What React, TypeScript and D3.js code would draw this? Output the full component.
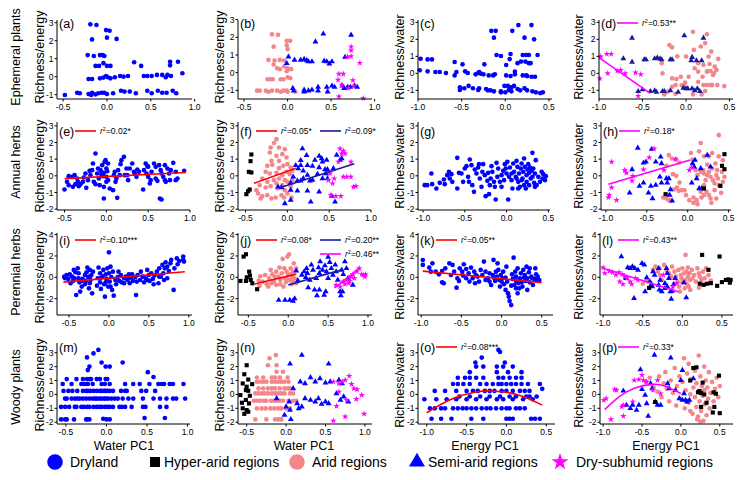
import React from "react";
import * as d3 from "d3";

type P = [number, number];

// ---------- tick labels / titles ----------
const waterTicks = [-0.5, 0, 0.5, 1.0];
const energyTicks = [-1.0, -0.5, 0, 0.5];
const yTicksR1 = [-1, 0, 1, 2, 3];
const yTicksR2 = [-2, -1, 0, 1, 2, 3];
const yTicksR3 = [-2, 0, 2, 4];
const yTicksR4 = [-2, -1, 0, 1, 2, 3];
const rowTitles = ["Ephemeral plants", "Annual herbs", "Perennial herbs", "Woody plants"];
const yTitles = ["Richness/energy", "Richness/energy", "Richness/water", "Richness/water"];
const xTitles = ["Water PC1", "Water PC1", "Energy PC1", "Energy PC1"];
const legendLabels = ["Dryland", "Hyper-arid regions", "Arid regions", "Semi-arid regions", "Dry-subhumid regions"];

// ---------- (a) ----------
const aDry: P[] = [[-0.19,2.91],[-0.12,2.87],[-0.01,2.59],[0.03,2.55],[-0.17,2.07],[0.0,2.17],[0.11,2.1],
[-0.22,1.2],[-0.15,1.15],[-0.08,1.2],[-0.05,1.2],[-0.03,1.15],
[-0.13,0.6],[-0.09,0.6],[-0.04,0.75],[0.0,0.6],[0.04,0.6],[0.31,0.8],[0.39,0.6],[0.72,0.83],[0.72,0.63],[0.81,0.83],[0.86,0.19],
[-0.21,-0.13],[-0.17,-0.13],[-0.08,-0.09],[-0.04,-0.05],[-0.01,0.04],[0.01,-0.03],[0.04,-0.09],[0.09,-0.03],[0.15,0.04],[0.19,0.0],[0.24,0.04],[0.42,0.04],[0.46,0.04],[0.51,0.04],[0.57,0.1],[0.63,0.1],[0.67,-0.03],[0.69,0.1],[0.73,0.04],
[-0.48,-1.02],[-0.34,-0.89],[-0.31,-0.92],[-0.21,-0.96],[-0.18,-1.02],[-0.17,-0.89],[-0.13,-0.98],[-0.1,-0.92],[-0.06,-0.89],[-0.03,-0.89],[0.0,-0.96],[0.07,-0.92],[0.16,-0.78],[0.2,-0.83],[0.26,-0.83],[0.33,-0.92],[0.46,-0.78],[0.51,-0.92],[0.58,-0.78],[0.63,-0.89],[0.68,-0.89],[0.75,-0.78],[0.79,-0.92]];

// ---------- (b) ----------
const bArid: P[] = [[-0.18,2.17],[-0.11,2.14],[-0.16,1.47],[-0.01,1.8],[0.03,1.8],[-0.01,1.55],[0.0,1.33],
[-0.22,0.72],[-0.15,0.69],[-0.09,0.72],[-0.04,0.69],[-0.16,0.46],
[-0.12,0.25],[-0.09,0.2],[-0.04,0.35],[0.0,0.25],[0.04,0.2],[-0.01,0.08],
[-0.23,-0.37],[-0.2,-0.37],[-0.17,-0.37],[-0.08,-0.37],[-0.05,-0.37],[0.0,-0.26],[0.03,-0.31],
[-0.35,-1.02],[-0.32,-1.02],[-0.25,-1.02],[-0.22,-1.08],[-0.18,-1.02],[-0.12,-1.02],[-0.08,-1.08],[-0.05,-1.02],[-0.01,-1.02],[0.0,-1.08],[0.09,-1.08]];
const bSemi: P[] = [[0.01,0.9],[-0.01,0.53],[0.08,0.72],[0.15,0.72],[0.19,0.76],[0.22,0.69],[0.24,0.63],[0.28,0.63],[0.32,1.75],[0.41,2.2],[0.42,0.66],[0.45,0.63],[0.48,0.5],[0.51,0.63],[0.66,0.88],[0.73,2.13],
[0.06,-0.88],[0.07,-1.02],[0.19,-0.97],[0.19,-1.08],[0.24,-1.02],[0.28,-0.97],[0.35,-0.82],[0.35,-1.02],[0.45,-0.82],[0.46,-1.08],[0.51,-0.75],[0.54,-0.82],[0.63,-0.75],[0.65,-0.88],[0.69,-0.82],[0.72,-0.82],[0.77,-0.75],[0.8,-0.82]];
const bSub: P[] = [[0.69,0.9],[0.73,0.93],[0.73,1.47],[0.73,1.25],[0.83,0.55],[0.59,-0.07],[0.64,-0.07],[0.58,-0.41],[0.62,-0.69],[0.75,-0.43],[0.76,-0.75],[0.7,-0.88],[0.59,-1.35],[0.87,-1.45]];

// ---------- (c) ----------
const cDry: P[] = [[-0.16,2.5],[-0.11,2.5],[-0.13,2.1],[0.15,2.84],[0.08,2.5],[0.3,2.84],[0.22,2.1],[0.33,2.0],
[-0.1,1.08],[-0.05,1.02],[0.06,1.14],[0.05,0.84],[0.14,0.6],[0.2,1.08],[0.24,1.08],[0.27,1.08],[0.23,0.69],[0.27,0.6],[0.29,0.6],[0.37,1.08],[0.18,0.69],[0.01,0.49],[0.11,0.1],
[-0.97,0.86],[-0.89,0.82],[-0.84,0.82],[-0.98,0.18],[-0.89,0.12],[-0.8,0.08],[-0.75,0.08],[-0.68,0.02],[-0.58,0.67],[-0.58,-0.12],[-0.56,0.08],[-0.49,0.53],[-0.46,0.12],[-0.43,0.02],[-0.34,-0.06],[-0.31,0.02],[-0.3,0.08],[-0.28,-0.02],[-0.25,-0.06],[-0.24,0.53],[-0.19,-0.12],[-0.14,-0.12],[-0.12,-0.06],[0.01,-0.12],[0.06,-0.16],[0.11,-0.06],[0.2,-0.12],[0.24,-0.12],[0.25,-0.16],[0.3,-0.2],[0.34,-0.2],
[-0.52,-0.82],[-0.52,-0.98],[-0.47,-0.88],[-0.42,-0.74],[-0.37,-0.88],[-0.31,-0.98],[-0.3,-0.88],[-0.22,-0.92],[-0.2,-1.0],[-0.17,-1.0],[-0.13,-1.06],[-0.05,-1.06],[-0.01,-0.74],[0.03,-0.74],[0.04,-0.98],[0.07,-0.82],[0.07,-1.06],[0.1,-0.74],[0.14,-0.92],[0.17,-1.0],[0.22,-0.88],[0.25,-1.0],[0.31,-1.06],[0.35,-1.12],[0.4,-1.16],[0.43,-1.12],[-0.05,-1.12],[0.0,-1.12]];

// ---------- (d) ----------
const dSub: P[] = [[-0.99,-0.3],[-0.98,0.99],[-0.91,1.14],[-0.86,1.14],[-0.9,0.0],[-0.79,0.14],[-0.75,0.2],[-0.7,0.0],[-0.58,0.04],[-0.55,-1.33],[-0.52,-0.06]];
const dSemi: P[] = [[-0.62,2.08],[-0.72,0.87],[-0.62,0.67],[-0.48,0.81],[-0.46,0.81],[-0.36,0.87],[-0.33,0.91],[-0.3,0.85],[-0.28,0.81],[-0.18,0.81],[-0.16,0.81],[-0.02,2.22],[0.07,0.95],[0.06,0.75],[0.12,0.75],[0.18,0.75],[0.2,2.08],
[-0.55,-1.06],[-0.5,-0.96],[-0.41,-1.06],[-0.36,-1.02],[-0.34,-1.1],[-0.27,-1.06],[-0.25,-1.06],[-0.18,-1.02],[-0.09,-1.1],[-0.03,-0.86],[0.0,-0.9],[0.02,-0.9],[0.07,-0.9],[0.1,-1.02],[0.13,-0.9],[0.16,-1.06]];
const dArid: P[] = [[0.08,2.45],[0.24,2.3],[-0.19,1.66],[-0.16,1.53],[-0.1,1.0],[-0.28,0.6],[-0.27,0.0],[-0.16,-0.3],[-0.11,-0.34],[-0.12,-0.69],[-0.16,-0.79],[-0.21,-1.08],[-0.25,-1.24],[0.0,0.99],[0.09,1.38],[0.17,1.58],[0.22,1.78],[0.26,0.99],[0.29,1.28],[0.14,0.6],[0.2,0.5],[0.24,0.1],[0.25,0.14],[0.28,0.14],[0.33,0.4],[0.31,-0.1],[0.19,-0.2],[0.14,-0.5],[0.2,-0.69],[0.24,-0.69],[0.28,-0.69],[0.3,-0.69],[0.36,-0.69],[0.22,-1.04],[0.18,-1.24],[0.08,-1.24],[0.37,0.85],[0.32,0.0],[0.35,0.2],[0.14,0.1],[0.03,-0.2],[-0.01,-0.55],[-0.05,-0.7],[-0.03,-0.75],[-0.12,-1.2],[-0.06,-0.2],[0.44,-0.75],[0.27,0.55],[0.1,0.3]];
const dFit: P[] = [[-1.0,0.92],[-0.41,-1.18]];

// ---------- (e) ----------
const eDry: P[] = [[-0.5,-0.82],[-0.47,-0.36],[-0.45,-0.02],[-0.41,-0.06],[-0.38,0.04],[-0.45,-0.56],[-0.4,-0.66],[-0.37,-0.5],[-0.34,-0.36],[-0.33,-0.62],[-0.31,-0.5],[-0.35,-0.16],[-0.28,-0.36],[-0.25,0.14],[-0.22,-0.26],[-0.24,-0.72],[-0.19,0.04],[-0.17,0.34],[-0.16,0.74],[-0.13,1.34],[-0.15,-0.36],[-0.13,-0.5],[-0.11,0.14],[-0.1,0.44],[-0.09,-0.16],[-0.08,-0.56],[-0.07,0.34],[-0.05,0.64],[-0.04,-0.02],[-0.03,-0.66],[-0.03,0.18],[-0.02,0.84],[-0.01,0.94],[0.0,0.44],[0.0,-0.06],[0.0,-0.36],[0.01,0.28],[0.02,0.74],[0.02,-0.26],[-0.03,-1.36],[0.04,-0.76],[0.08,-0.86],[0.09,0.04],[0.1,0.24],[0.11,-0.36],[0.12,-0.16],[0.13,-1.32],[0.14,0.34],[0.16,0.04],[0.17,0.7],[0.18,0.94],[0.21,1.14],[0.22,0.04],[0.24,0.44],[0.25,0.04],[0.26,-0.26],[0.28,0.44],[0.31,0.74],[0.33,0.24],[0.34,0.14],[0.36,-0.06],[0.37,0.38],[0.39,0.24],[0.44,-0.82],[0.45,0.34],[0.47,0.74],[0.48,0.14],[0.5,-0.06],[0.49,0.58],[0.53,-0.26],[0.54,0.24],[0.57,0.74],[0.59,-0.16],[0.61,-0.3],[0.63,0.64],[0.65,0.34],[0.66,0.14],[0.68,-0.06],[0.7,-0.26],[0.64,-1.36],[0.66,-1.42],[0.7,0.64],[0.73,0.44],[0.75,0.14],[0.77,0.34],[0.8,0.78],[0.83,-0.26],[0.85,-0.16],[0.71,-0.36],[0.52,-0.46],[0.59,0.54],[0.83,0.24],[0.76,-0.26],[0.5,0.55],[0.93,0.3],[-0.2,0.3],[-0.27,-0.1],[-0.06,0.1]];
const eFit: P[] = [[-0.5,-0.17],[0.95,0.2]];

// ---------- (f) ----------
const fHyper: P[] = [[-0.43,1.28],[-0.44,0.88],[-0.46,0.24],[-0.43,0.2],[-0.47,-0.92],[-0.45,-0.82],[-0.49,-1.1]];
const fArid: P[] = [[-0.13,2.2],[-0.16,1.97],[-0.2,1.7],[-0.1,1.7],[-0.03,1.6],[-0.21,1.4],[-0.13,1.2],[-0.06,1.3],[-0.01,1.1],[-0.19,0.9],[-0.1,0.9],[-0.24,0.6],[-0.18,0.66],[-0.1,0.46],[-0.05,0.6],[0.0,0.7],[0.04,0.5],[0.06,0.3],[-0.26,0.24],[-0.21,0.14],[-0.13,0.18],[-0.06,0.04],[-0.01,0.24],[0.03,0.1],[-0.3,-0.16],[-0.24,-0.36],[-0.16,-0.26],[-0.1,-0.16],[-0.03,-0.26],[0.0,-0.36],[-0.33,-0.56],[-0.26,-0.7],[-0.2,-0.62],[-0.12,-0.76],[-0.06,-0.56],[-0.03,-0.86],[0.04,-0.66],[-0.35,-1.06],[-0.3,-1.22],[-0.24,-1.16],[-0.19,-1.36],[-0.14,-1.3],[-0.07,-1.16],[-0.04,-1.3],[0.0,-1.06],[0.05,-1.3],[-0.37,-0.86],[-0.32,-1.36],[-0.13,-0.46],[0.06,-0.26]];
const fSemi: P[] = [[0.18,1.63],[0.23,1.23],[0.16,0.93],[0.1,0.63],[0.13,0.43],[0.16,0.63],[0.19,0.3],[0.24,0.63],[0.12,-0.3],[0.07,-0.06],[0.04,-0.42],[0.16,-0.3],[0.19,-0.16],[0.24,0.04],[0.3,0.58],[0.33,0.94],[0.38,1.18],[0.41,1.04],[0.42,0.84],[0.45,0.38],[0.47,0.94],[0.48,0.38],[0.38,0.5],[0.36,0.1],[0.3,-0.26],[0.27,-0.3],[0.42,-0.16],[0.46,0.14],[0.48,-0.16],[0.04,-0.86],[0.12,-0.9],[0.24,-0.9],[0.28,-1.56],[0.38,-0.96],[0.53,-1.22],[0.57,-1.56],[0.04,-1.46],[-0.03,-1.66],[-0.07,-0.7],[-0.11,-0.66],[0.59,1.24],[0.63,0.94],[0.65,1.04],[0.55,0.44]];
const fSub: P[] = [[0.63,1.63],[0.67,1.5],[0.65,1.33],[0.69,1.33],[0.61,0.84],[0.76,0.84],[0.51,0.14],[0.56,-0.16],[0.54,-0.46],[0.49,-0.26],[0.67,-0.06],[0.71,-0.06],[0.76,-0.06],[0.79,-0.66],[0.82,-0.62],[0.52,-1.16],[0.58,-1.22],[0.64,-1.22]];
const fFitArid: P[] = [[-0.4,-0.45],[0.1,0.45]];
const fFitSemi: P[] = [[-0.1,-0.73],[0.8,0.72]];

// ---------- (g) ----------
const gDry: P[] = [[-0.98,-0.56],[-0.95,-0.56],[-0.9,0.14],[-0.89,-0.5],[-0.84,-0.76],[-0.8,-0.42],[-0.75,-0.22],[-0.74,-0.5],[-0.71,0.04],[-0.69,0.24],[-0.68,-0.16],[-0.66,0.1],[-0.65,-0.36],[-0.59,-0.76],[-0.59,1.08],[-0.57,0.18],[-0.54,0.14],[-0.52,-0.36],[-0.5,0.44],[-0.48,0.58],[-0.46,-0.06],[-0.45,-0.36],[-0.44,0.98],[-0.42,0.64],[-0.41,-0.56],[-0.39,-0.96],[-0.38,0.38],[-0.36,0.14],[-0.34,0.5],[-0.33,0.7],[-0.32,-0.16],[-0.3,-0.66],[-0.29,0.24],[-0.28,0.7],[-0.26,0.04],[-0.25,-1.22],[-0.23,-0.3],[-0.22,0.18],[-0.21,-1.1],[-0.2,-0.56],[-0.19,-0.16],[-0.18,0.58],[-0.17,0.24],[-0.15,-0.36],[-0.14,-0.66],[-0.13,-1.42],[-0.12,0.78],[-0.11,-0.06],[-0.1,0.44],[-0.08,-0.36],[-0.06,0.04],[-0.04,0.3],[-0.03,-0.26],[-0.02,0.7],[-0.01,0.44],[0.0,0.14],[0.01,0.84],[0.02,-1.42],[0.03,-0.06],[0.04,0.5],[0.06,-0.26],[0.07,-0.76],[0.08,0.74],[0.09,0.24],[0.11,-0.06],[0.12,0.9],[0.13,0.54],[0.14,-0.36],[0.15,0.14],[0.16,-0.66],[0.17,0.44],[0.18,0.74],[0.19,-0.16],[0.2,0.24],[0.21,1.04],[0.22,0.54],[0.23,-0.76],[0.24,0.04],[0.25,0.38],[0.26,0.7],[0.27,0.18],[0.28,0.5],[0.29,-0.16],[0.3,0.3],[0.31,1.38],[0.32,0.44],[0.33,-0.42],[0.34,0.14],[0.35,0.94],[0.36,-0.56],[0.38,-0.06],[0.4,-0.36],[0.42,0.24],[0.43,-0.16],[0.44,0.1],[0.46,-0.26],[0.47,-0.02],[0.12,-0.16],[0.18,-0.26],[0.24,-0.36],[0.31,-0.06],[0.34,-0.66],[0.27,-0.56],[0.21,-0.56],[0.14,-0.76],[0.06,0.14],[-0.06,-0.66]];

// ---------- (h) ----------
const hSub: P[] = [[-0.97,-1.3],[-0.96,-1.16],[-0.93,-0.7],[-0.93,0.84],[-0.87,-1.46],[-0.77,0.34],[-0.75,0.18],[-0.68,-0.3],[-0.67,-0.02],[-0.54,0.38],[-0.47,1.1],[-0.41,1.63],[-0.29,0.34],[-0.15,0.98],[0.02,0.34],[0.05,0.5]];
const hSemi: P[] = [[-0.61,1.67],[-0.68,0.38],[-0.71,-1.02],[-0.54,0.78],[-0.51,0.84],[-0.44,1.6],[-0.39,0.84],[-0.33,1.14],[-0.32,0.74],[-0.34,-0.06],[-0.39,-0.56],[-0.32,-0.42],[-0.45,-0.62],[-0.48,-1.02],[-0.43,-1.36],[-0.54,-0.42],[-0.59,-0.62],[-0.26,-0.16],[-0.25,-0.42],[-0.23,-0.16],[-0.22,-1.16],[-0.19,-1.5],[-0.21,-0.82],[0.06,0.74],[0.09,0.94],[0.08,0.54],[0.14,-0.76],[0.16,0.44],[0.11,-0.16],[0.05,-0.42],[0.24,1.24],[0.28,0.54],[0.17,-0.76]];
const hArid: P[] = [[-0.23,1.24],[-0.19,1.04],[-0.14,1.0],[-0.1,0.8],[-0.26,0.6],[-0.18,0.1],[-0.14,0.0],[-0.1,-0.4],[-0.13,-0.7],[-0.11,-0.9],[-0.07,-0.86],[-0.04,-0.86],[-0.26,-1.36],[-0.23,-1.46],[-0.3,-1.3],[-0.24,-1.16],[0.07,-1.3],[0.11,-1.46],[0.07,-1.62],[0.12,-1.7],[0.17,-1.3],[0.16,-0.96],[0.2,-1.16],[0.2,-0.56],[0.22,-0.26],[0.24,0.04],[0.26,0.24],[0.28,-0.06],[0.3,0.44],[0.31,-0.26],[0.33,-0.46],[0.34,0.74],[0.35,0.04],[0.36,0.34],[0.37,-0.16],[0.38,-0.56],[0.38,2.44],[0.16,1.97],[0.14,1.47],[0.2,1.17],[0.24,0.67],[0.26,1.17],[0.3,1.37],[0.38,1.17],[0.19,0.34],[0.2,0.14],[0.23,-0.96],[0.26,-1.16],[0.28,-1.36],[0.29,-1.62],[0.35,-1.36],[0.41,-1.02],[0.43,-0.36],[0.45,-0.06],[0.42,0.24],[0.43,0.94],[0.33,-0.86],[0.16,0.24],[0.12,0.04],[0.1,0.34],[0.04,1.37],[0.06,0.97],[0.02,-1.46],[-0.02,-1.16],[-0.17,-0.82],[-0.21,-1.5]];
const hHyper: P[] = [[0.45,1.3],[0.42,0.6],[0.45,0.4],[0.4,-0.6],[0.2,-0.76],[-0.27,-1.1]];
const hFit: P[] = [[-0.97,-0.5],[0.03,0.95]];

// ---------- (i) ----------
const iDry: P[] = [[-0.56,0.06],[-0.55,-0.09],[-0.53,0.22],[-0.51,-0.15],[-0.49,0.28],[-0.48,-0.56],[-0.46,0.06],[-0.45,-0.34],[-0.43,-0.09],[-0.44,0.69],[-0.42,0.47],[-0.41,-1.66],[-0.39,0.84],[-0.38,-0.09],[-0.37,-0.47],[-0.36,-1.34],[-0.34,-0.87],[-0.33,-0.15],[-0.3,0.22],[-0.3,-0.65],[-0.29,-0.34],[-0.28,0.47],[-0.27,0.91],[-0.26,0.03],[-0.25,-1.03],[-0.24,0.69],[-0.24,-0.56],[-0.23,-0.25],[-0.22,0.22],[-0.21,-1.5],[-0.2,0.53],[-0.15,-0.78],[-0.14,-0.09],[-0.13,0.91],[-0.11,-0.47],[-0.11,0.38],[-0.1,-1.09],[-0.08,0.06],[-0.07,0.69],[-0.06,-0.65],[-0.05,-1.81],[-0.04,0.28],[-0.03,-0.15],[-0.02,0.84],[-0.01,-0.87],[0.0,2.34],[0.0,0.38],[0.01,-0.4],[0.02,1.0],[0.03,0.03],[0.04,-1.18],[0.05,0.53],[0.06,-1.72],[0.08,-0.25],[0.09,-0.65],[0.11,0.03],[0.13,-0.34],[0.15,0.22],[0.16,-0.47],[0.19,-0.09],[0.21,0.06],[0.23,-0.25],[0.25,0.28],[0.26,-0.56],[0.28,0.03],[0.3,-0.34],[0.33,0.03],[0.34,-1.66],[0.36,0.22],[0.39,-0.25],[0.42,0.06],[0.44,-0.47],[0.46,-0.09],[0.48,0.69],[0.5,0.22],[0.51,-0.34],[0.53,0.38],[0.55,-0.15],[0.57,0.16],[0.6,0.53],[0.62,-0.56],[0.63,0.84],[0.65,0.06],[0.67,1.16],[0.68,0.38],[0.7,0.84],[0.71,1.41],[0.73,1.0],[0.75,0.59],[0.77,1.31],[0.78,1.63],[0.81,-1.18],[0.82,0.84],[0.85,1.78],[0.86,1.22],[0.88,1.53],[0.93,1.94],[0.93,1.63],[0.94,1.47],[0.35,-0.4],[0.29,0.28],[0.4,0.53],[0.56,-0.65],[0.73,-0.09],[-0.11,-0.09],[-0.24,0.06],[-0.38,0.38],[-0.34,-0.34],[-0.04,-0.47],[0.02,-0.87],[0.12,0.53],[0.19,-0.56],[0.25,-0.09],[0.48,-0.25],[0.63,0.06],[0.69,-0.25]];
const iFit: P[] = [[-0.57,-0.45],[0.95,0.52]];

// ---------- (j) ----------
const jHyper: P[] = [[-0.53,2.16],[-0.56,1.94],[-0.6,-0.34],[-0.53,-0.34],[-0.49,0.53],[-0.48,0.16],[-0.47,-0.25],[-0.45,-0.56],[-0.39,-1.12],[-0.52,0.0]];
const jArid: P[] = [[-0.32,-0.4],[-0.29,0.22],[-0.27,-0.65],[-0.24,-0.09],[-0.22,0.69],[-0.2,0.28],[-0.18,-0.4],[-0.15,0.53],[-0.15,-0.72],[-0.12,0.06],[-0.11,0.91],[-0.1,-0.25],[-0.08,0.38],[-0.07,1.72],[-0.06,-0.87],[-0.05,0.84],[-0.04,-0.09],[-0.03,-0.47],[-0.02,0.53],[-0.01,1.94],[0.0,0.22],[0.01,2.16],[0.02,-0.25],[0.03,0.84],[0.04,-0.65],[0.05,0.06],[0.06,0.53],[0.07,1.31],[0.08,-0.09],[0.1,0.84],[0.1,-0.56],[-0.21,-0.56],[-0.17,0.06],[-0.1,-0.65],[-0.02,-0.15],[0.03,0.28],[0.06,-0.4],[-0.25,-0.87],[-0.37,-0.3],[-0.35,0.1],[-0.36,-0.8]];
const jSemi: P[] = [[-0.12,-2.13],[-0.04,-2.13],[0.02,-2.13],[0.06,-2.22],[0.08,-2.0],[0.17,0.22],[0.2,0.53],[0.22,0.0],[0.23,0.84],[0.24,0.38],[0.27,-0.25],[0.29,1.16],[0.31,0.69],[0.35,-0.09],[0.38,0.91],[0.39,0.38],[0.4,1.47],[0.43,0.69],[0.46,1.09],[0.48,0.53],[0.5,-0.09],[0.52,1.41],[0.54,0.84],[0.33,-1.18],[0.39,-1.18],[0.47,-1.34],[0.36,-1.72],[0.25,-0.96],[0.56,0.22],[0.59,1.16],[0.6,0.53],[0.62,-0.25],[0.67,0.69],[0.69,0.28],[0.71,1.47],[0.73,0.84],[0.68,-1.34],[0.75,-0.09],[0.65,-1.34],[0.66,-1.72],[0.45,-1.66],[0.5,1.9],[0.81,-0.72],[0.12,-0.3],[0.1,0.6]];
const jSub: P[] = [[0.6,-0.72],[0.65,-0.87],[0.69,-0.4],[0.73,-0.25],[0.76,-0.56],[0.79,0.06],[0.81,0.28],[0.83,-0.09],[0.86,0.53],[0.89,0.84],[0.92,0.28],[0.94,0.22],[0.96,0.06],[0.97,0.28],[0.71,-0.65],[0.77,-0.34]];
const jFitArid: P[] = [[-0.42,-0.62],[0.1,0.3]];
const jFitSemi: P[] = [[0.0,-0.72],[0.68,0.72]];
const jFitSub: P[] = [[0.58,-1.0],[0.9,0.9]];

// ---------- (k) ----------
const kDry: P[] = [[-0.98,1.62],[-0.98,1.16],[-0.9,0.91],[-0.88,0.53],[-0.86,1.31],[-0.82,0.53],[-0.78,0.28],[-0.74,0.59],[-0.74,-0.47],[-0.72,-0.56],[-0.7,0.84],[-0.65,1.31],[-0.63,0.22],[-0.61,1.16],[-0.59,0.53],[-0.56,-0.97],[-0.55,-0.09],[-0.53,-0.34],[-0.52,0.84],[-0.49,0.53],[-0.48,0.16],[-0.47,1.22],[-0.44,0.78],[-0.44,-0.09],[-0.41,0.38],[-0.4,-0.4],[-0.38,0.91],[-0.36,-0.09],[-0.34,0.53],[-0.33,-0.56],[-0.32,0.22],[-0.3,0.06],[-0.28,-0.4],[-0.26,0.69],[-0.24,0.22],[-0.22,1.47],[-0.2,-0.25],[-0.2,0.53],[-0.17,-0.09],[-0.15,0.38],[-0.15,-0.4],[-0.13,-0.72],[-0.11,0.22],[-0.1,1.63],[-0.09,-0.09],[-0.08,-0.34],[-0.07,0.53],[-0.06,0.06],[-0.05,1.31],[-0.04,0.69],[-0.03,-0.25],[-0.02,-0.87],[-0.01,0.22],[0.0,-0.4],[0.01,-0.09],[0.02,0.53],[0.03,-0.65],[0.05,-1.18],[0.05,-0.03],[0.06,1.0],[0.07,-0.4],[0.08,-1.5],[0.09,-1.81],[0.1,-2.22],[0.12,-2.6],[0.13,0.28],[0.14,-0.15],[0.15,1.84],[0.16,-0.72],[0.17,0.53],[0.18,-0.34],[0.18,0.06],[0.2,0.84],[0.21,-0.56],[0.22,-1.03],[0.23,-0.09],[0.24,0.38],[0.25,-0.47],[0.26,-0.87],[0.27,0.69],[0.28,-0.03],[0.29,0.22],[0.3,-0.34],[0.31,1.0],[0.32,-0.09],[0.34,0.47],[0.35,-0.47],[0.35,0.84],[0.37,0.06],[0.39,-0.72],[0.41,-0.15],[0.42,0.84],[0.43,0.28],[0.45,0.06],[0.47,-0.25],[0.32,-1.18],[0.18,-1.03],[0.12,-0.78],[0.2,-1.5],[0.38,-0.09],[0.43,-0.25]];
const kFit: P[] = [[-0.98,0.58],[0.5,-0.5]];

// ---------- (l) ----------
const lSub: P[] = [[-1.0,0.91],[-0.98,0.38],[-0.92,0.59],[-0.88,0.47],[-0.84,0.22],[-0.8,0.47],[-0.76,0.28],[-0.73,0.06],[-0.7,-0.09],[-0.66,-0.4],[-0.64,-0.65],[-0.59,-0.09],[-0.56,-0.25],[-0.75,-0.65],[-0.79,-0.4],[-0.24,0.22],[-0.12,-0.87],[-0.07,-0.56]];
const lSemi: P[] = [[-0.77,1.94],[-0.71,-0.09],[-0.69,0.91],[-0.66,0.84],[-0.63,1.0],[-0.6,0.84],[-0.56,0.69],[-0.51,1.31],[-0.48,1.16],[-0.45,-0.03],[-0.41,-0.4],[-0.38,-0.87],[-0.37,0.53],[-0.35,0.22],[-0.3,-0.72],[-0.29,-1.18],[-0.26,-1.34],[-0.22,-1.03],[-0.2,0.84],[-0.19,0.38],[-0.17,-0.09],[-0.15,-1.34],[-0.13,-1.28],[-0.11,-0.65],[-0.09,-0.09],[-0.19,-0.87],[-0.3,0.84],[-0.61,-1.97],[-0.14,-2.03],[-0.22,-0.56],[-0.39,-0.65],[-0.47,-1.34],[-0.28,-0.25],[0.05,-1.9],[0.02,-0.5]];
const lArid: P[] = [[-0.37,0.69],[-0.34,1.0],[-0.31,0.53],[-0.29,0.84],[-0.28,0.22],[-0.26,-0.25],[-0.23,1.16],[-0.2,0.69],[-0.17,0.38],[-0.14,0.06],[-0.13,1.0],[-0.1,0.53],[-0.08,0.06],[-0.06,-0.4],[-0.05,0.69],[-0.04,-0.87],[-0.02,0.22],[-0.01,-0.09],[0.0,-0.47],[0.0,0.84],[0.02,0.38],[0.03,-1.03],[0.04,2.1],[0.04,-0.25],[0.05,0.53],[0.06,-0.65],[0.07,0.06],[0.07,0.91],[0.08,-0.87],[0.09,0.38],[0.1,-0.25],[0.12,0.69],[0.13,-0.09],[0.15,0.22],[0.17,-0.4],[0.19,0.84],[0.21,0.38],[0.22,0.06],[0.24,-0.25],[0.26,0.53],[0.28,-0.09],[0.3,0.84],[-0.03,-1.34],[0.1,-1.18],[0.21,-0.97],[0.26,-0.72],[-0.45,-0.3],[-0.5,-0.6],[0.33,0.2],[0.36,-0.3]];
const lHyper: P[] = [[0.25,2.1],[0.47,1.95],[0.33,0.7],[-0.42,-1.0],[0.22,-0.6],[0.27,-0.7],[0.31,-0.6],[0.36,-0.55],[0.44,-0.8],[0.5,-0.45],[0.55,-0.25],[0.58,-0.2],[0.61,-0.25],[0.6,-0.5]];
const lFit: P[] = [[-1.0,0.85],[-0.05,-1.35]];

// ---------- (m) ----------
const mDry: P[] = [[-0.49,1.1],[-0.37,1.1],[-0.29,1.1],[-0.24,1.1],[-0.21,1.1],[-0.19,1.1],[-0.12,1.1],[-0.08,1.1],[-0.01,1.1],[0.01,1.1],
[-0.54,0.75],[-0.43,0.75],[-0.31,0.75],[-0.27,0.75],[-0.23,0.75],[-0.17,0.75],[-0.06,0.75],[-0.02,0.75],[0.04,0.75],[0.23,0.75],[0.33,0.75],[0.41,0.75],[0.53,0.75],[0.64,0.75],[0.68,0.75],[0.71,0.75],[0.78,0.75],[0.82,0.75],[0.95,0.75],
[-0.53,0.25],[-0.47,0.25],[-0.42,0.25],[-0.36,0.25],[-0.29,0.25],[-0.25,0.25],[-0.23,0.25],[-0.2,0.25],[-0.16,0.25],[-0.12,0.25],[-0.08,0.25],[-0.06,0.25],[-0.03,0.25],[-0.01,0.25],[0.01,0.25],[0.04,0.25],[0.08,0.25],[0.18,0.25],[0.23,0.25],[0.25,0.25],[0.43,0.25],[0.49,0.25],[0.6,0.25],
[-0.51,-0.3],[-0.49,-0.3],[-0.43,-0.3],[-0.39,-0.3],[-0.36,-0.3],[-0.33,-0.3],[-0.29,-0.3],[-0.25,-0.3],[-0.21,-0.3],[-0.17,-0.3],[-0.14,-0.3],[-0.12,-0.3],[-0.09,-0.3],[-0.06,-0.3],[-0.03,-0.3],[-0.01,-0.3],[0.02,-0.3],[0.06,-0.3],[0.1,-0.3],[0.14,-0.3],[0.2,-0.3],[0.27,-0.3],[0.33,-0.3],[0.45,-0.3],[0.58,-0.3],[0.66,-0.3],[0.74,-0.3],[0.82,-0.3],[0.86,-0.3],[0.97,-0.3],
[-0.56,-0.9],[-0.51,-0.9],[-0.46,-0.9],[-0.39,-0.9],[-0.37,-0.9],[-0.31,-0.9],[-0.28,-0.9],[-0.24,-0.9],[-0.21,-0.9],[-0.16,-0.9],[-0.12,-0.9],[-0.09,-0.9],[-0.06,-0.9],[-0.02,-0.9],[0.01,-0.9],[0.04,-0.9],[0.08,-0.9],[0.16,-0.9],[0.19,-0.9],[0.23,-0.9],[0.31,-0.9],[0.45,-0.9],[0.48,-0.9],[0.66,-0.9],[0.74,-0.9],
[-0.56,-1.8],[-0.51,-1.8],[-0.49,-1.8],[-0.4,-1.8],[-0.25,-1.8],[-0.24,-1.8],[-0.21,-1.8],[-0.04,-1.75],[0.0,-1.8],[0.04,-1.8],[0.47,-1.7],[0.72,-1.7],
[-0.24,2.66],[-0.16,2.95],[-0.1,3.2],[-0.21,2.0],[-0.23,1.75],[-0.06,2.3],[-0.01,2.0],[0.04,2.0],[0.2,2.3],[0.51,1.6],[0.58,1.25]];

// ---------- (n) ----------
const nHyper: P[] = [[-0.5,2.1],[-0.53,1.45],[-0.48,1.07],[-0.55,0.79],[-0.5,0.55],[-0.51,0.31],[-0.48,0.26],[-0.58,-0.05],[-0.51,-0.4],[-0.47,-0.65],[-0.55,-1.0],[-0.5,-1.13],[-0.53,-1.4],[-0.48,-1.25],[-0.43,0.74],[-0.56,-0.6],[-0.46,-0.1]];
const nArid: P[] = [[-0.13,2.83],[-0.21,2.6],[-0.23,2.1],[-0.12,2.1],[-0.12,1.63],[-0.04,1.63],
[-0.37,1.22],[-0.29,1.22],[-0.18,1.22],[-0.14,1.22],[-0.08,1.22],[0.02,1.22],
[-0.37,0.91],[-0.33,0.91],[-0.29,0.91],[-0.25,0.91],[-0.18,0.91],[-0.14,0.91],[-0.1,0.91],[-0.06,0.91],[-0.02,0.91],[0.03,0.91],
[-0.35,0.43],[-0.29,0.43],[-0.23,0.43],[-0.18,0.43],[-0.14,0.43],[-0.08,0.43],[-0.02,0.43],[0.02,0.43],[0.05,0.43],
[-0.39,0.07],[-0.35,0.07],[-0.31,0.07],[-0.27,0.07],[-0.23,0.07],[-0.18,0.07],[-0.14,0.07],[-0.1,0.07],[-0.06,0.07],[-0.02,0.07],[0.05,0.07],[0.09,0.07],
[-0.41,-0.46],[-0.37,-0.46],[-0.33,-0.46],[-0.28,-0.46],[-0.25,-0.46],[-0.19,-0.46],[-0.15,-0.46],[-0.12,-0.46],[-0.08,-0.46],[-0.04,-0.46],[0.03,-0.46],[0.09,-0.46],[0.13,-0.46],
[-0.37,-1.01],[-0.31,-1.01],[-0.26,-1.01],[-0.2,-1.01],[-0.15,-1.01],[-0.1,-1.01],[-0.06,-1.01],[0.0,-1.01],[0.05,-1.01],
[-0.39,-1.8],[-0.25,-1.8],[-0.14,-1.8],[-0.1,-1.8],[-0.06,-1.8]];
const nSemi: P[] = [[0.2,2.83],[0.05,2.2],[0.54,2.2],[0.09,0.43],[0.18,0.91],[0.24,0.79],[0.31,1.22],[0.37,0.91],[0.43,1.15],[0.5,0.83],[0.56,0.91],[0.67,1.03],[0.71,0.79],[-0.12,-0.29],[0.0,-0.89],[0.04,-0.53],[0.05,-1.13],[-0.02,-1.49],[0.06,-1.8],[0.14,-0.65],[0.16,-1.01],[0.2,-0.89],[0.24,-0.29],[0.31,-0.41],[0.37,-0.53],[0.41,-0.29],[0.45,-0.7],[0.5,-0.53],[0.54,-0.65],[0.69,-0.41],[0.73,-0.17],[0.79,-0.53],[0.64,0.07]];
const nSub: P[] = [[0.6,0.91],[0.67,0.79],[0.71,0.91],[0.75,1.03],[0.8,1.32],[0.83,0.74],[0.86,0.43],[0.9,0.36],[0.96,-0.05],[0.89,-0.34],[0.77,-0.41],[0.67,0.19],[0.64,-0.84],[0.75,-1.6],[0.6,-1.9],[0.99,-1.4]];

// ---------- (o) ----------
const oDry: P[] = [[-1.03,-0.35],[-0.88,-0.35],[-0.75,-0.35],[-0.63,-0.35],[-0.5,-0.35],[-0.38,-0.35],[-0.25,-0.35],[-0.12,-0.35],[-0.04,-0.35],[0.08,-0.35],[0.21,-0.35],[0.33,-0.35],
[-0.59,-0.15],[-0.46,-0.15],[-0.33,-0.15],[-0.21,-0.15],[-0.08,-0.15],[0.04,-0.15],[0.12,-0.15],[0.25,-0.15],[0.29,-0.15],[0.38,-0.15],
[-0.96,-1.0],[-0.9,-1.0],[-0.82,-1.0],[-0.77,-1.0],[-0.67,-1.0],[-0.61,-1.0],[-0.55,-1.0],[-0.5,-1.0],[-0.44,-1.0],[-0.38,-1.0],[-0.31,-1.0],[-0.25,-1.0],[-0.2,-1.0],[-0.13,-1.0],[-0.06,-1.0],[0.0,-1.0],[0.04,-1.0],[0.12,-1.0],[0.17,-1.0],[0.23,-1.0],
[-0.94,-1.75],[-0.82,-1.75],[-0.69,-1.75],[-0.44,-1.75],[-0.29,-1.75],[0.0,-1.75],[0.04,-1.75],[0.08,-1.75],[0.31,-1.75],[0.36,-1.75],[0.42,-1.75],
[-0.9,0.25],[-0.77,0.25],[-0.63,0.25],[-0.5,0.25],[-0.42,0.25],[-0.36,0.25],[-0.27,0.25],[-0.21,0.25],[-0.15,0.25],[-0.06,0.25],[0.0,0.25],[0.08,0.25],[0.17,0.25],[0.23,0.25],[0.29,0.25],
[-0.67,0.75],[-0.61,0.75],[-0.54,0.75],[-0.46,0.75],[-0.33,0.75],[-0.25,0.75],[-0.17,0.75],[-0.1,0.75],[-0.06,0.75],[0.0,0.75],[0.06,0.75],[0.12,0.75],[0.19,0.75],[0.27,0.75],[0.42,0.75],
[-0.61,1.2],[-0.52,1.2],[-0.46,1.2],[-0.38,1.2],[-0.29,1.2],[-0.1,1.2],[-0.04,1.2],[0.04,1.2],[0.12,1.2],[0.19,1.2],
[-0.46,1.6],[-0.12,1.6],[0.02,1.6],[0.19,1.6],
[-0.38,2.0],[-0.29,2.0],[-0.12,2.0],[-0.04,2.0],[0.08,2.0],
[-0.39,2.3],[-0.02,2.3],[-0.31,2.65],[-0.1,3.2],[-0.08,3.05],[0.45,0.4]];
const oFit: P[] = [[-1.0,-1.32],[-0.7,-0.36],[-0.4,0.15],[-0.2,0.25],[0.0,0.15],[0.2,-0.14],[0.45,-0.77]];

// ---------- (p) ----------
const pSub: P[] = [[-0.99,-0.41],[-0.96,-0.29],[-0.85,0.36],[-0.83,0.31],[-0.9,-1.8],[-0.74,-0.77],[-0.62,-0.53],[-0.6,1.02],[-0.54,1.07],[-0.48,1.02],[-0.5,1.39],[-0.44,0.91],[-0.36,0.31],[-0.3,1.02],[-0.26,0.07],[-0.74,-1.56],[-0.76,-0.89]];
const pSemi: P[] = [[-0.74,0.26],[-0.7,-0.77],[-0.65,-1.0],[-0.62,-0.77],[-0.57,-1.13],[-0.54,-0.77],[-0.52,1.79],[-0.5,0.36],[-0.46,-0.05],[-0.44,-0.65],[-0.42,-1.56],[-0.39,0.79],[-0.37,0.43],[-0.34,2.84],[-0.33,-0.53],[-0.3,-0.77],[-0.26,-0.77],[-0.17,0.79],[-0.15,0.43],[-0.13,2.63],[-0.07,0.31],[-0.02,-0.29],[0.0,1.02],[0.04,0.07],[0.08,-0.53],[0.02,1.74],[0.11,-0.41],[0.16,1.14],[0.02,-0.41],[0.06,-0.41]];
const pArid: P[] = [[-0.45,0.9],[-0.4,1.2],[-0.35,0.5],[-0.3,0.2],[-0.28,1.3],[-0.25,-0.2],[-0.22,0.8],[-0.2,1.6],[-0.18,0.4],[-0.15,-0.5],[-0.13,1.0],[-0.1,0.1],[-0.08,1.9],[-0.06,-0.8],[-0.05,0.6],[-0.02,1.3],[0.0,-0.3],[0.02,0.9],[0.04,2.6],[0.05,-1.0],[0.06,0.3],[0.08,1.5],[0.1,-0.6],[0.1,2.2],[0.12,0.0],[0.13,1.1],[0.15,-1.4],[0.16,0.5],[0.18,-0.2],[0.18,1.7],[0.2,0.8],[0.2,-0.9],[0.21,-1.8],[0.22,0.2],[0.23,2.8],[0.24,-0.5],[0.25,1.3],[0.26,-1.2],[0.27,0.6],[0.28,-0.1],[0.29,-1.9],[0.3,2.0],[0.3,0.3],[0.31,-0.7],[0.32,1.0],[0.33,-1.5],[0.34,0.5],[0.35,-0.3],[0.36,1.6],[0.37,-1.0],[0.38,0.1],[0.4,0.9],[0.42,-0.5],[0.44,0.4],[0.46,1.2],[0.48,-0.2],[0.5,0.6],[0.25,-1.95],[0.22,-1.6],[0.12,-1.2]];
const pHyper: P[] = [[0.16,1.9],[0.2,1.95],[0.28,0.85],[0.22,0.15],[0.24,0.25],[0.26,0.1],[0.3,0.0],[0.26,-0.9],[0.33,-0.6],[0.42,0.15],[0.45,0.05],[0.49,1.35],[0.43,-0.9],[0.41,-1.3],[0.5,-1.35],[-0.33,-0.55],[0.12,1.0]];
const pFit: P[] = [[-0.98,-1.1],[-0.8,-0.2],[-0.6,0.45],[-0.37,0.72],[-0.2,0.59],[0.0,0.07]];

// ---------- style ----------
const FONT = "'Liberation Sans', Arial, Helvetica, sans-serif";
const BLUE = "#0000ff";
const NAVY = "#1a1a9c";
const PINK = "#f4858a";
const MAG = "#ff00ff";
const RED = "#ff0000";
const BLACK = "#000000";

type Shape = "circle" | "square" | "triangle" | "star";
type Series = { shape: Shape; color: string; data: P[] };
type Fit = { color: string; data: P[]; text: string; slot: number; curve?: boolean };
type PanelCfg = {
  label: string; x: [number, number]; xd: [number, number]; y: [number, number]; yd: [number, number];
  xt: number[]; yt: number[]; labelY: number; series: Series[]; fits: Fit[];
};

const symType = (s: Shape) =>
  s === "circle" ? d3.symbolCircle : s === "square" ? d3.symbolSquare : s === "triangle" ? d3.symbolTriangle : d3.symbolStar;

const sym: Record<Shape, string> = {
  circle: d3.symbol(d3.symbolCircle, 17)() as string,
  square: d3.symbol(d3.symbolSquare, 17)() as string,
  triangle: d3.symbol(d3.symbolTriangle, 15)() as string,
  star: d3.symbol(d3.symbolStar, 13)() as string,
};

const R1: [number, number] = [20, 99];
const R2: [number, number] = [122, 210];
const R3: [number, number] = [233, 315];
const R4: [number, number] = [343, 424];

const panels: PanelCfg[] = [
  { label: "(a)", x: [57, 192], xd: [-0.57, 0.97], y: R1, yd: [3.15, -1.24], xt: waterTicks, yt: yTicksR1, labelY: 23,
    series: [{ shape: "circle", color: BLUE, data: aDry }], fits: [] },
  { label: "(b)", x: [238, 372], xd: [-0.57, 0.97], y: R1, yd: [2.98, -1.49], xt: waterTicks, yt: yTicksR1, labelY: 23,
    series: [{ shape: "circle", color: PINK, data: bArid }, { shape: "triangle", color: BLUE, data: bSemi }, { shape: "star", color: MAG, data: bSub }], fits: [] },
  { label: "(c)", x: [418, 552], xd: [-1.0, 0.535], y: R1, yd: [3.14, -1.51], xt: energyTicks, yt: yTicksR1, labelY: 23,
    series: [{ shape: "circle", color: BLUE, data: cDry }], fits: [] },
  { label: "(d)", x: [599, 733], xd: [-1.0, 0.54], y: R1, yd: [3.14, -1.51], xt: energyTicks, yt: yTicksR1, labelY: 23,
    series: [{ shape: "circle", color: PINK, data: dArid }, { shape: "triangle", color: NAVY, data: dSemi }, { shape: "star", color: MAG, data: dSub }],
    fits: [{ color: MAG, data: dFit, text: "=0.53**", slot: 0 }] },
  { label: "(e)", x: [57, 190], xd: [-0.59, 1.0], y: R2, yd: [3.23, -2.05], xt: waterTicks, yt: yTicksR2, labelY: 131,
    series: [{ shape: "circle", color: BLUE, data: eDry }], fits: [{ color: RED, data: eFit, text: "=0.02*", slot: 0 }] },
  { label: "(f)", x: [238, 371], xd: [-0.59, 1.0], y: R2, yd: [3.23, -2.05], xt: waterTicks, yt: yTicksR2, labelY: 131,
    series: [{ shape: "square", color: BLACK, data: fHyper }, { shape: "circle", color: PINK, data: fArid }, { shape: "triangle", color: BLUE, data: fSemi }, { shape: "star", color: MAG, data: fSub }],
    fits: [{ color: RED, data: fFitArid, text: "=0.05*", slot: 0 }, { color: NAVY, data: fFitSemi, text: "=0.09*", slot: 1 }] },
  { label: "(g)", x: [418, 550], xd: [-1.06, 0.52], y: R2, yd: [3.23, -2.05], xt: energyTicks, yt: yTicksR2, labelY: 131,
    series: [{ shape: "circle", color: BLUE, data: gDry }], fits: [] },
  { label: "(h)", x: [601, 731], xd: [-1.06, 0.53], y: R2, yd: [3.23, -2.05], xt: energyTicks, yt: yTicksR2, labelY: 131,
    series: [{ shape: "circle", color: PINK, data: hArid }, { shape: "triangle", color: BLUE, data: hSemi }, { shape: "star", color: MAG, data: hSub }, { shape: "square", color: BLACK, data: hHyper }],
    fits: [{ color: MAG, data: hFit, text: "=0.18*", slot: 0 }] },
  { label: "(i)", x: [57, 192], xd: [-0.65, 1.04], y: R3, yd: [4.15, -3.53], xt: waterTicks, yt: yTicksR3, labelY: 240,
    series: [{ shape: "circle", color: BLUE, data: iDry }], fits: [{ color: RED, data: iFit, text: "=0.10***", slot: 0 }] },
  { label: "(j)", x: [238, 372], xd: [-0.63, 1.05], y: R3, yd: [4.15, -3.53], xt: waterTicks, yt: yTicksR3, labelY: 240,
    series: [{ shape: "circle", color: PINK, data: jArid }, { shape: "triangle", color: BLUE, data: jSemi }, { shape: "star", color: MAG, data: jSub }, { shape: "square", color: BLACK, data: jHyper }],
    fits: [{ color: RED, data: jFitArid, text: "=0.08*", slot: 0 }, { color: NAVY, data: jFitSemi, text: "=0.20**", slot: 1 }, { color: MAG, data: jFitSub, text: "=0.46**", slot: 2 }] },
  { label: "(k)", x: [418, 553], xd: [-1.04, 0.64], y: R3, yd: [4.15, -3.53], xt: energyTicks, yt: yTicksR3, labelY: 240,
    series: [{ shape: "circle", color: BLUE, data: kDry }], fits: [{ color: RED, data: kFit, text: "=0.05**", slot: 0 }] },
  { label: "(l)", x: [600, 733], xd: [-1.04, 0.64], y: R3, yd: [4.15, -3.53], xt: energyTicks, yt: yTicksR3, labelY: 240,
    series: [{ shape: "circle", color: PINK, data: lArid }, { shape: "triangle", color: BLUE, data: lSemi }, { shape: "star", color: MAG, data: lSub }, { shape: "square", color: BLACK, data: lHyper }],
    fits: [{ color: MAG, data: lFit, text: "=0.43**", slot: 0 }] },
  { label: "(m)", x: [57, 190], xd: [-0.61, 1.03], y: R4, yd: [3.7, -2.13], xt: waterTicks, yt: yTicksR4, labelY: 347,
    series: [{ shape: "circle", color: BLUE, data: mDry }], fits: [] },
  { label: "(n)", x: [238, 372], xd: [-0.61, 1.09], y: R4, yd: [3.7, -2.13], xt: waterTicks, yt: yTicksR4, labelY: 347,
    series: [{ shape: "square", color: BLACK, data: nHyper }, { shape: "circle", color: PINK, data: nArid }, { shape: "triangle", color: BLUE, data: nSemi }, { shape: "star", color: MAG, data: nSub }], fits: [] },
  { label: "(o)", x: [418, 555], xd: [-1.11, 0.61], y: R4, yd: [3.7, -2.13], xt: energyTicks, yt: yTicksR4, labelY: 347,
    series: [{ shape: "circle", color: BLUE, data: oDry }], fits: [{ color: RED, data: oFit, text: "=0.08***", slot: 0, curve: true }] },
  { label: "(p)", x: [600, 733], xd: [-1.04, 0.67], y: R4, yd: [3.7, -2.13], xt: energyTicks, yt: yTicksR4, labelY: 347,
    series: [{ shape: "circle", color: PINK, data: pArid }, { shape: "triangle", color: BLUE, data: pSemi }, { shape: "star", color: MAG, data: pSub }, { shape: "square", color: BLACK, data: pHyper }],
    fits: [{ color: MAG, data: pFit, text: "=0.33*", slot: 0, curve: true }] },
];

const fmt = (v: number) => (v < 0 ? "-" : "") + Math.abs(v).toFixed(1);

function Panel({ p }: { p: PanelCfg }) {
  const xs = d3.scaleLinear().domain(p.xd).range(p.x);
  const ys = d3.scaleLinear().domain(p.yd).range(p.y);
  const [x0, x1] = p.x;
  const [y0, y1] = p.y;
  const line = d3.line<P>().x((d) => xs(d[0])).y((d) => ys(d[1]));
  const curve = d3.line<P>().x((d) => xs(d[0])).y((d) => ys(d[1])).curve(d3.curveNatural);
  const slotPos = [
    { lx: x0 + 18, ty: p.labelY },
    { lx: x0 + 82, ty: p.labelY },
    { lx: x0 + 82, ty: p.labelY + 14 },
  ];
  return (
    <g>
      {p.series.map((s, i) => (
        <g key={i} fill={s.color}>
          {s.data.map((d, j) => (
            <path key={j} d={sym[s.shape]} transform={`translate(${xs(d[0])},${ys(d[1])})`} />
          ))}
        </g>
      ))}
      {p.fits.map((f, i) => (
        <path key={i} d={(f.curve ? curve : line)(f.data) as string} fill="none" stroke={f.color} strokeWidth={1.6} />
      ))}
      <line x1={x0} x2={x1} y1={y1} y2={y1} stroke="#000" strokeWidth={1} />
      <line x1={x0} x2={x0} y1={y0} y2={y1} stroke="#000" strokeWidth={1} />
      {p.xt.map((t) => (
        <g key={"x" + t}>
          <line x1={xs(t)} x2={xs(t)} y1={y1} y2={y1 + 2.5} stroke="#000" />
          <text x={xs(t)} y={y1 + 11} fontSize={8.5} textAnchor="middle" fontFamily={FONT}>{fmt(t)}</text>
        </g>
      ))}
      {p.yt.map((t) => (
        <g key={"y" + t}>
          <line x1={x0 - 2.5} x2={x0} y1={ys(t)} y2={ys(t)} stroke="#000" />
          <text x={x0 - 3.5} y={ys(t) + 3} fontSize={8.5} textAnchor="end" fontFamily={FONT}>{t}</text>
        </g>
      ))}
      <text x={x0 + 2} y={p.labelY + 4.5} fontSize={12.5} fontFamily={FONT}>{p.label}</text>
      {p.fits.map((f, i) => {
        const s = slotPos[f.slot];
        return (
          <g key={"l" + i}>
            <line x1={s.lx} x2={s.lx + 21} y1={s.ty} y2={s.ty} stroke={f.color} strokeWidth={1.6} />
            <text x={s.lx + 25} y={s.ty + 3} fontSize={8.5} fontFamily={FONT}>
              <tspan fontStyle="italic">r</tspan>
              <tspan fontSize={5.5} dy={-3}>2</tspan>
              <tspan dy={3}>{f.text}</tspan>
            </text>
          </g>
        );
      })}
    </g>
  );
}

export default function App() {
  const rowCenters = [57, 162, 272, 387];
  const yTitleCenters = [57, 166, 277, 385];
  const colTitleX = [40, 220, 400, 579];
  const xTitleX = [124, 304, 485, 666];
  const legendItems: { shape: Shape; color: string; cx: number; tx: number; size: number }[] = [
    { shape: "circle", color: BLUE, cx: 55, tx: 70, size: 190 },
    { shape: "square", color: BLACK, cx: 155, tx: 164, size: 100 },
    { shape: "circle", color: PINK, cx: 297, tx: 312, size: 190 },
    { shape: "triangle", color: BLUE, cx: 417, tx: 428, size: 110 },
    { shape: "star", color: MAG, cx: 560, tx: 576, size: 90 },
  ];
  return (
    <svg width={746} height={480} style={{ position: "absolute", left: 0, top: 0, background: "#fff" }} fontFamily={FONT}>
      <rect width={746} height={480} fill="#fff" />
      {rowTitles.map((t, i) => (
        <text key={t} transform={`translate(16,${rowCenters[i]}) rotate(-90)`} textAnchor="middle" dominantBaseline="central" fontSize={12.5}>{t}</text>
      ))}
      {[0, 1, 2, 3].map((r) =>
        [0, 1, 2, 3].map((c) => (
          <text key={`yt${r}${c}`} transform={`translate(${colTitleX[c]},${yTitleCenters[r]}) rotate(-90)`} textAnchor="middle" dominantBaseline="central" fontSize={12.5}>{yTitles[c]}</text>
        ))
      )}
      {panels.map((p) => <Panel key={p.label} p={p} />)}
      {xTitles.map((t, i) => (
        <text key={i} x={xTitleX[i]} y={450} textAnchor="middle" fontSize={12.5}>{t}</text>
      ))}
      {legendItems.map((it, i) => (
        <g key={i}>
          <path d={d3.symbol(symType(it.shape), it.size)() as string} transform={`translate(${it.cx},462)`} fill={it.color} />
          <text x={it.tx} y={467} fontSize={14}>{legendLabels[i]}</text>
        </g>
      ))}
    </svg>
  );
}
